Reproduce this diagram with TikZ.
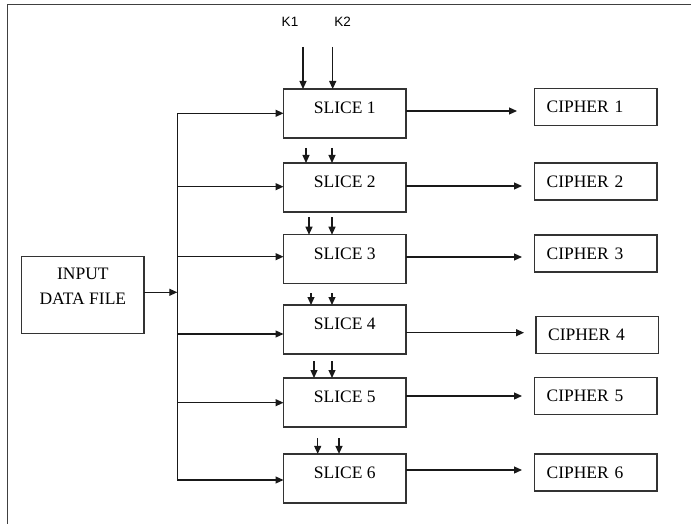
\documentclass[tikz,border=0pt]{standalone}
\usepackage{fontspec}
\setmainfont{Liberation Serif}
\newfontfamily\keyfont{Liberation Sans}
\usetikzlibrary{arrows.meta}
\begin{document}
\begin{tikzpicture}[x=1pt,y=-1pt,
  box/.style={draw=black!80, line width=1.3pt, rectangle, inner sep=0pt, outer sep=0pt},
  slicebox/.style={box, minimum width=122.5pt, minimum height=49pt,
    text height=24.5pt, text depth=24.5pt, font=\fontsize{17.5}{21}\selectfont},
  cipherbox/.style={box, minimum height=37pt, text width=98.5pt, inner xsep=12pt,
    align=left, font=\fontsize{17.5}{21}\selectfont},
  inbox/.style={box, minimum width=122.3pt, minimum height=76.6pt},
  keylabel/.style={font=\keyfont\fontsize{13.5}{16}\selectfont, inner sep=0pt},
  arr/.style={draw=black!90, line width=1.2pt, -{Triangle[length=8pt,width=7pt]}},
  wire/.style={draw=black!90, line width=1.2pt},
  frameline/.style={draw=black!75, line width=1.5pt}]
\useasboundingbox (0,0) rectangle (691,524);

% page frame
\coordinate (fa) at (7.5,524);
\coordinate (fb) at (7.5,4.5);
\coordinate (fc) at (691,4.5);
\draw[frameline] (fa) -- (fb) -- (fc);

% input block
\node[inbox, label={[align=center, font=\fontsize{17.5}{25}\selectfont, yshift=8.5pt]center:INPUT\\DATA FILE}] (input) at (82.9,295) {};

% slices
\node[slicebox] (s1) at (344.75,113.5) {SLICE 1};
\node[slicebox] (s2) at (344.75,187.5) {SLICE 2};
\node[slicebox] (s3) at (344.75,259.2) {SLICE 3};
\node[slicebox] (s4) at (344.75,329.5) {SLICE 4};
\node[slicebox] (s5) at (344.75,402.5) {SLICE 5};
\node[slicebox] (s6) at (344.75,478.4) {SLICE 6};

% ciphers
\node[cipherbox] (c1) at (595.85,107.2) {CIPHER~1};
\node[cipherbox] (c2) at (595.85,181.5) {CIPHER~2};
\node[cipherbox] (c3) at (595.85,253.5) {CIPHER~3};
\node[cipherbox] (c4) at (597.35,335.2) {CIPHER~4};
\node[cipherbox] (c5) at (595.85,396) {CIPHER~5};
\node[cipherbox] (c6) at (595.85,472.5) {CIPHER~6};

% keys
\node[keylabel] (k1) at (290,21.7) {K1};
\node[keylabel] (k2) at (342.7,21.7) {K2};
\coordinate (ka) at (303,47);
\coordinate (kb) at (332.7,47);
\draw[arr] (ka) -- (ka |- s1.north);
\draw[arr] (kb) -- (kb |- s1.north);

% key hand-over between slices
\foreach \xa/\xb/\ys/\dst in {306/332/148/s2, 309/332/217/s3, 311/332/293/s4, 314/332/361/s5, 317.7/339/438/s6}{
  \coordinate (ta) at (\xa,\ys);
  \coordinate (tb) at (\xb,\ys);
  \draw[arr] (ta) -- (ta |- \dst.north);
  \draw[arr] (tb) -- (tb |- \dst.north);
}

% distribution bus
\coordinate (jn) at (177.3,292.3);
\coordinate (b1) at (177.3,113.3);
\coordinate (b2) at (177.3,186.7);
\coordinate (b3) at (177.3,256.7);
\coordinate (b4) at (177.3,334);
\coordinate (b5) at (177.3,402.7);
\coordinate (b6) at (177.3,480);
\draw[wire] (b1) -- (b6);
\draw[arr] (input.east |- jn) -- (jn);
\foreach \i in {1,...,6}{
  \draw[arr] (b\i) -- (b\i -| s\i.west);
}

% outputs
\foreach \i/\yo/\xt in {1/111/517, 2/186/522, 3/257/522, 4/332.7/524, 5/396/522, 6/470/522}{
  \coordinate (o\i) at (\xt,\yo);
  \draw[arr] (s\i.east |- o\i) -- (o\i);
}
\end{tikzpicture}
\end{document}
